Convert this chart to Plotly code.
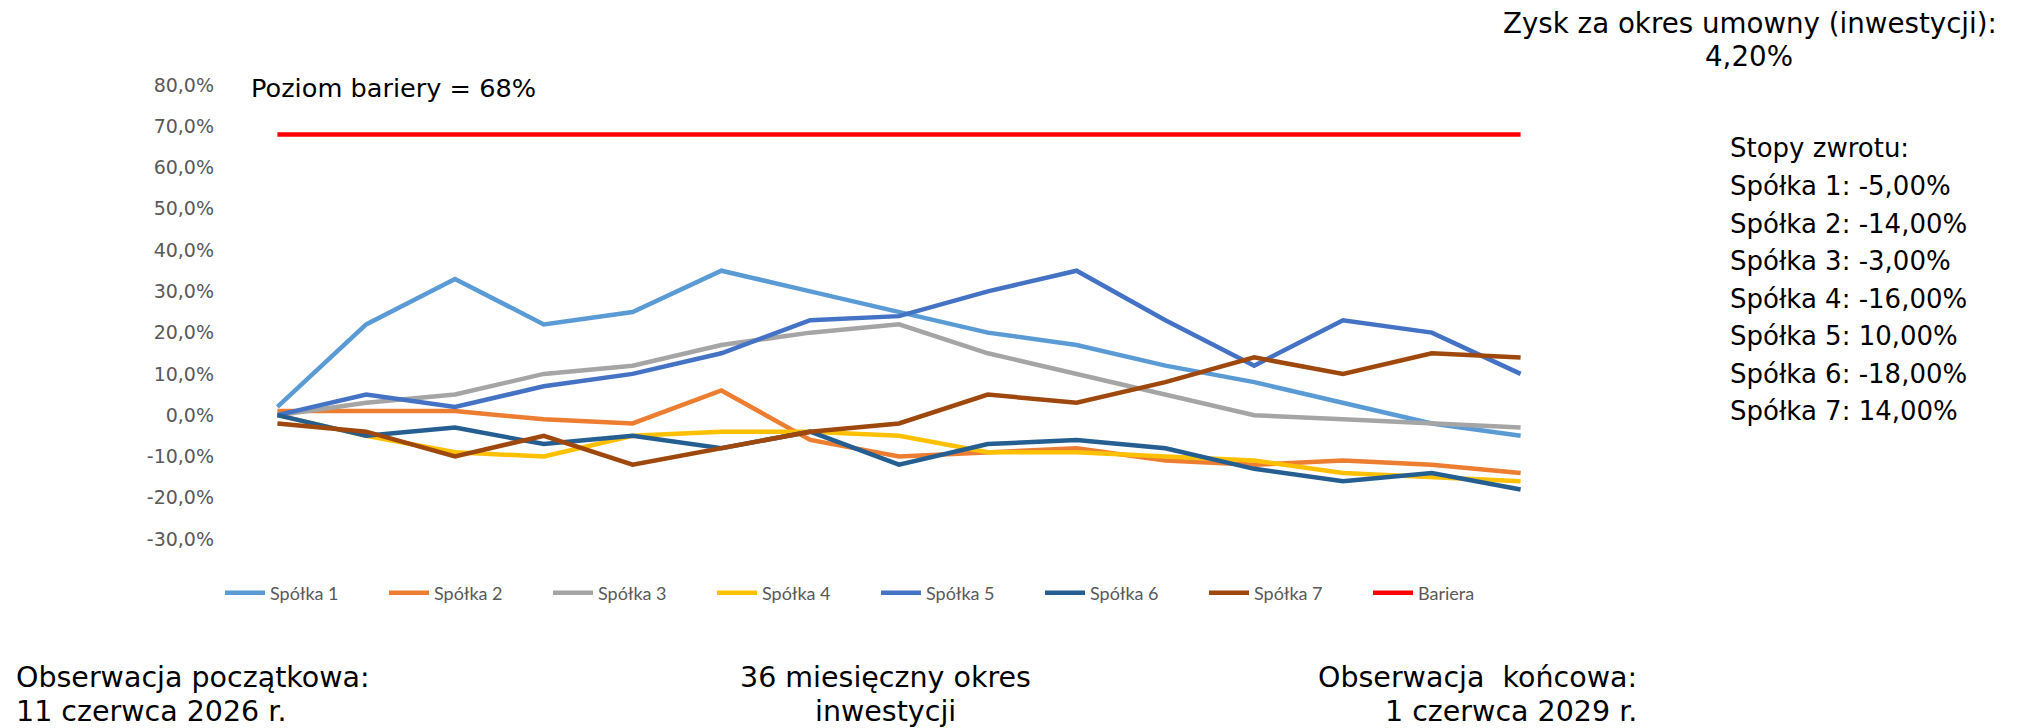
import plotly.graph_objects as go

months = list(range(15))
s1 = [2, 22, 33, 22, 25, 35, 30, 25, 20, 17, 12, 8, 3, -2, -5]
s2 = [1, 1, 1, -1, -2, 6, -6, -10, -9, -8, -11, -12, -11, -12, -14]
s3 = [0, 3, 5, 10, 12, 17, 20, 22, 15, 10, 5, 0, -1, -2, -3]
s4 = [0, -5, -9, -10, -5, -4, -4, -5, -9, -9, -10, -11, -14, -15, -16]
s5 = [0, 5, 2, 7, 10, 15, 23, 24, 30, 35, 23, 12, 23, 20, 10]
s6 = [0, -5, -3, -7, -5, -8, -4, -12, -7, -6, -8, -13, -16, -14, -18]
s7 = [-2, -4, -10, -5, -12, -8, -4, -2, 5, 3, 8, 14, 10, 15, 14]
barrier = [68] * 15

names = ["Spółka 1", "Spółka 2", "Spółka 3", "Spółka 4", "Spółka 5", "Spółka 6", "Spółka 7", "Bariera"]
series = [s1, s2, s3, s4, s5, s6, s7, barrier]
colors = ["#5B9BD5", "#ED7D31", "#A5A5A5", "#FFC000", "#4472C4", "#255E91", "#9E480E", "#FF0000"]

tick_vals = [80, 70, 60, 50, 40, 30, 20, 10, 0, -10, -20, -30]
tick_text = [f"{v},0%" for v in tick_vals]

stopy = ["-5,00%", "-14,00%", "-3,00%", "-16,00%", "10,00%", "-18,00%", "14,00%"]

W, H = 2021, 728
L, R, T, B = 233, 456, 85, 189
PW, PH = W - L - R, H - T - B


def px(x):
    return (x - L) / PW


def py(y):
    return (H - B - y) / PH


FONT = "DejaVu Sans"

fig = go.Figure()
for name, ys, c in zip(names, series, colors):
    fig.add_trace(go.Scatter(x=months, y=ys, mode="lines", name=name,
                             line=dict(color=c, width=4.5)))

fig.update_layout(
    width=W, height=H,
    margin=dict(l=L, r=R, t=T, b=B, autoexpand=False),
    plot_bgcolor="white", paper_bgcolor="white",
    showlegend=True,
    legend=dict(orientation="h", x=px(220), xanchor="left", y=py(593), yanchor="middle",
                font=dict(family="Lato", size=18, color="#595959"),
                entrywidth=109, entrywidthmode="pixels", itemwidth=40, tracegroupgap=0),
    xaxis=dict(range=[-0.5, 14.5], showgrid=False, zeroline=False, showticklabels=False,
               showline=False, ticks=""),
    yaxis=dict(range=[-30, 80], showgrid=False, zeroline=False, showline=False,
               tickvals=tick_vals, ticktext=tick_text, ticklabelstandoff=18,
               tickfont=dict(family=FONT, size=19, color="#595959")),
)

ann = []


def add(x, y, text, anchor, size):
    ann.append(dict(x=px(x), y=py(y), text=text, xanchor=anchor, yanchor="middle",
                    xref="paper", yref="paper", showarrow=False,
                    font=dict(family=FONT, size=size, color="black")))


add(249, 88, "Poziom bariery = 68%", "left", 25.6)
add(1750, 23, "Zysk za okres umowny (inwestycji):", "center", 27.7)
add(1749, 56, "4,20%", "center", 27.7)
add(1728, 148, "Stopy zwrotu:", "left", 26)
for i, v in enumerate(stopy):
    add(1728, 186 + i * 37.5, f"Spółka {i + 1}: {v}", "left", 26)
add(14, 677, "Obserwacja początkowa:", "left", 28.5)
add(14, 711, "11 czerwca 2026 r.", "left", 28.5)
add(885, 677, "36 miesięczny okres", "center", 28.5)
add(885, 711, "inwestycji", "center", 28.5)
add(1639, 677, "Obserwacja\u00a0 końcowa:", "right", 28.5)
add(1639, 711, "1 czerwca 2029 r.", "right", 28.5)
fig.update_layout(annotations=ann)

fig.write_html("out.html", config={"displayModeBar": False},
               post_script="document.body.style.margin='0';document.body.style.overflow='hidden';")
